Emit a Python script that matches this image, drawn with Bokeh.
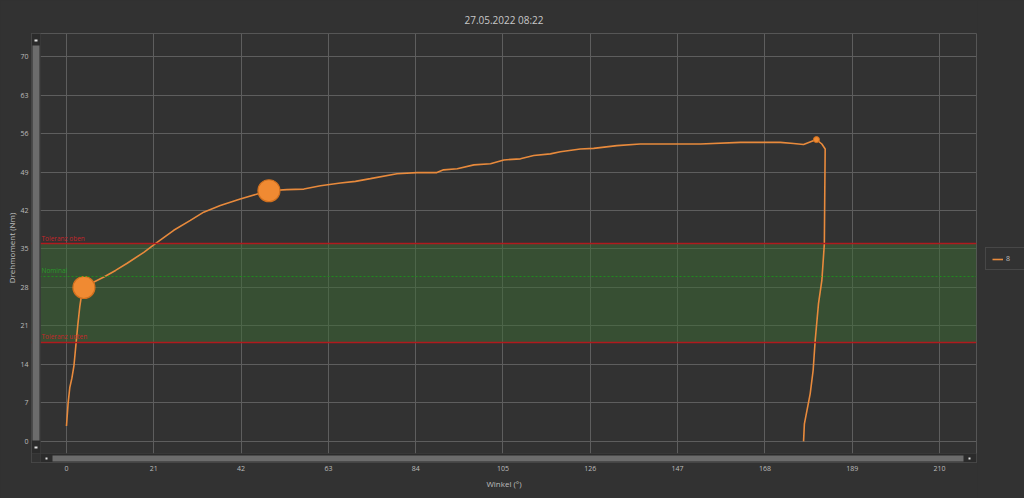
from bokeh.plotting import figure
from bokeh.layouts import row
from bokeh.models import (Range1d, FixedTicker, BoxAnnotation, Span, Label, Legend, LegendItem)
from bokeh.embed import file_html
from bokeh.resources import INLINE

# ---------------- data ----------------
title_text = "27.05.2022 08:22"
x_label = "Winkel (°)"
y_label = "Drehmoment (Nm)"
series_name = "8"

x_ticks = [0, 21, 42, 63, 84, 105, 126, 147, 168, 189, 210]
y_ticks = [0, 7, 14, 21, 28, 35, 42, 49, 56, 63, 70]

angle = [0, 0.4, 0.8, 1.3, 1.8, 2.2, 2.7, 3.2, 3.7, 4.2,
         6.6, 9.0, 11.8, 14.6, 18.6, 21.8, 25.8, 29.8, 33.0, 37.0,
         41.8, 45.9, 48.7, 53.0, 57.1, 61.1, 65.9, 69.5, 73.1, 79.5,
         84.3, 89.1, 90.7, 94.0, 98.0, 102.0, 105.2, 109.2, 112.4, 116.4,
         118.8, 123.6, 126.8, 132.4, 138.0, 147.7, 152.5, 162.1, 171.7, 174.9,
         177.3, 180.4, 181.7, 182.5, 182.4, 182.3, 181.7, 180.9, 180.1, 179.6,
         178.9, 177.5, 177.3]
torque = [2.8, 7.0, 9.8, 11.5, 13.8, 17.0, 21.0, 24.5, 27.0, 28.0,
          29.0, 29.9, 31.1, 32.4, 34.4, 36.2, 38.4, 40.2, 41.7, 42.9,
          44.1, 45.0, 45.6, 45.8, 45.9, 46.5, 47.0, 47.3, 47.8, 48.7,
          48.9, 48.9, 49.4, 49.6, 50.3, 50.5, 51.2, 51.4, 52.0, 52.3,
          52.7, 53.2, 53.3, 53.8, 54.1, 54.1, 54.1, 54.4, 54.4, 54.2,
          54.0, 54.9, 54.1, 53.2, 45.0, 35.9, 29.3, 25.1, 18.4, 12.9,
          8.7, 3.2, 0.0]

marker_angle = [4.2, 48.7]
marker_torque = [28.0, 45.6]
peak_angle = [180.4]
peak_torque = [54.9]

tol_upper = 36
tol_lower = 18
nominal = 30
tol_upper_text = "Toleranz oben"
tol_lower_text = "Toleranz unten"
nominal_text = "Nominal"

# visible plot-area range (scrollbars are drawn inside an extended frame)
x_view = (-6.25, 218.9)
y_view = (-2.2, 74.2)

# ---------------- style / layout ----------------
BG = "#323232"
GRID = "#5e5e5e"
TXT = "#bdbdbd"
ORANGE = "#e88a3c"
FONT = "Open Sans"

W, H = 1024, 498
F_LEFT, F_RIGHT, F_TOP, F_BOTTOM = 31, 976, 33, 462   # frame incl. scrollbars
SB = 9                                                  # scrollbar thickness
plot_w = (F_RIGHT - F_LEFT) - SB
plot_h = (F_BOTTOM - F_TOP) - SB
xs = plot_w / (x_view[1] - x_view[0])
ys = plot_h / (y_view[1] - y_view[0])
x_start = x_view[0] - SB / xs
y_start = y_view[0] - SB / ys

PW = F_RIGHT + 1
p = figure(width=PW, height=H,
           x_range=Range1d(x_start, x_view[1]), y_range=Range1d(y_start, y_view[1]),
           output_backend="svg", toolbar_location=None,
           background_fill_color=BG, border_fill_color=BG,
           min_border_left=F_LEFT, min_border_right=1,
           min_border_top=F_TOP, min_border_bottom=H - F_BOTTOM)
p.outline_line_color = "#565656"

p.title.text = title_text
p.title.align = "center"
p.title.text_font = FONT
p.title.text_font_size = "10px"
p.title.text_font_style = "normal"
p.title.text_color = "#c8c8c8"
p.title.standoff = 13

for ax in (p.xaxis[0], p.yaxis[0]):
    ax.axis_line_color = None
    ax.major_tick_line_color = None
    ax.minor_tick_line_color = None
    ax.major_tick_out = 0
    ax.major_tick_in = 0
    ax.minor_tick_out = 0
    ax.minor_tick_in = 0
    ax.major_label_text_font = FONT
    ax.major_label_text_font_size = "7px"
    ax.major_label_text_color = TXT
    ax.axis_label_text_font = FONT
    ax.axis_label_text_font_size = "8px"
    ax.axis_label_text_font_style = "normal"
    ax.axis_label_text_color = TXT

p.xaxis.ticker = FixedTicker(ticks=x_ticks)
p.yaxis.ticker = FixedTicker(ticks=y_ticks)
p.xaxis.axis_label = x_label
p.yaxis.axis_label = y_label
p.xaxis.major_label_standoff = 3
p.xaxis.axis_label_standoff = 4
p.yaxis.major_label_standoff = 3
p.yaxis.axis_label_standoff = 0

p.xgrid.grid_line_color = GRID
p.ygrid.grid_line_color = GRID

# tolerance band
band = BoxAnnotation(bottom=tol_lower, top=tol_upper, fill_color="#3b6b34",
                     fill_alpha=0.5, line_color=None, level="underlay")
p.add_layout(band)
p.add_layout(Span(location=tol_upper, dimension="width", line_color="#b01a1e", line_width=1.5))
p.add_layout(Span(location=tol_lower, dimension="width", line_color="#b01a1e", line_width=1.5))
p.add_layout(Span(location=nominal, dimension="width", line_color="#1f8c1f",
                  line_width=1, line_dash="2 2"))

for txt, yv, col in ((tol_upper_text, tol_upper, "#c4262a"),
                     (nominal_text, nominal, "#2a9a2a"),
                     (tol_lower_text, tol_lower, "#c4262a")):
    p.add_layout(Label(x=x_view[0], y=yv, x_offset=1, text=txt, text_font=FONT,
                       text_font_size="6.5px", text_color=col,
                       text_baseline="bottom", y_offset=1))

# curve
line_style = dict(line_color=ORANGE, line_width=1.6)
line_r = p.line(angle, torque, **line_style)
p.scatter(marker_angle, marker_torque, size=22, fill_color="#f08a32",
          line_color="#d0701f", line_width=1.2)
p.scatter(peak_angle, peak_torque, size=6, fill_color="#f08a32", line_color="#d0701f")

# scrollbars (decoration, screen units relative to frame bottom-left)
def sbox(l, r, b, t, fill, line=None):
    p.add_layout(BoxAnnotation(left=l, right=r, bottom=b, top=t,
                               left_units="screen", right_units="screen",
                               bottom_units="screen", top_units="screen",
                               fill_color=fill, fill_alpha=1,
                               line_color=line, line_width=1, level="overlay"))

fw = F_RIGHT - F_LEFT
fh = F_BOTTOM - F_TOP
sbox(0, SB, 0, fh, BG)
sbox(0, fw, 0, SB, BG)
sbox(0, SB, SB, fh, "#2b2b2b", "#505050")
sbox(1, SB - 1, 22, fh - 12, "#6c6c6c")
sbox(3, 6, fh - 8, fh - 6, "#e0e0e0")
sbox(3, 6, 14, 16, "#e0e0e0")
sbox(SB, fw, 0, SB, "#2b2b2b", "#505050")
sbox(21, fw - 13, 1, SB - 2, "#6c6c6c")
sbox(14, 16, 3, 5, "#e0e0e0")
sbox(fw - 8, fw - 6, 3, 5, "#e0e0e0")

# legend strip on the right (own small figure; proxy line kept out of view)
LW = W - PW
pl = figure(width=LW, height=H, output_backend="svg", toolbar_location=None,
            x_axis_type=None, y_axis_type=None,
            x_range=Range1d(-1000, -999), y_range=Range1d(-1000, -999),
            background_fill_color=BG, border_fill_color=BG,
            min_border=0, min_border_left=0, min_border_right=0,
            min_border_top=0, min_border_bottom=0)
pl.outline_line_color = None
pl.grid.visible = False
proxy = pl.line(angle, torque, **line_style)
legend = Legend(items=[LegendItem(label=series_name, renderers=[proxy])],
                location=(985 - PW, 192), orientation="vertical",
                glyph_width=11, glyph_height=6, label_standoff=3,
                padding=6, spacing=0, margin=0,
                label_text_font=FONT, label_text_font_size="7px",
                label_text_color=TXT, border_line_color="#5c5c5c",
                background_fill_color=BG, background_fill_alpha=1)
pl.add_layout(legend, "center")

layout = row(p, pl, spacing=0)
html = file_html(layout, INLINE)
html = html.replace("<head>", "<head><style>html, body { background: #323232; }</style>", 1)
open("out.html", "w").write(html)
